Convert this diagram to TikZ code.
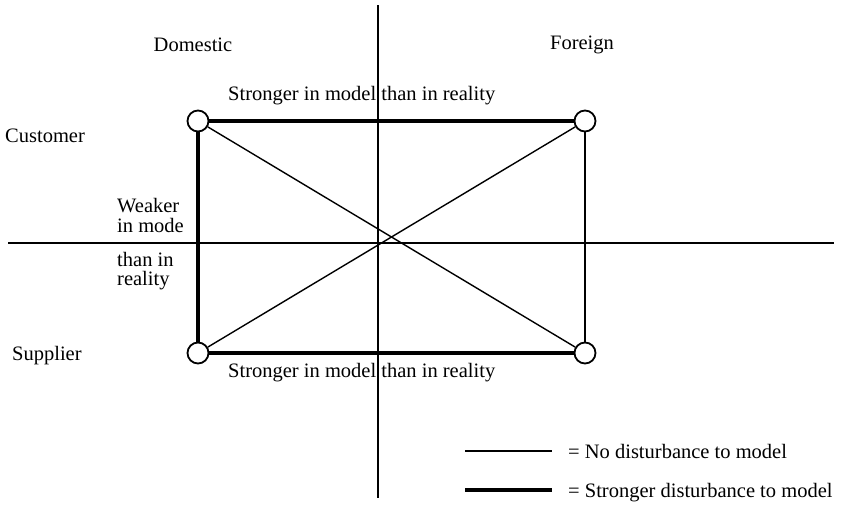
\documentclass[tikz,border=0pt]{standalone}
\usepackage{fontspec}
\setmainfont{Liberation Serif}
\begin{document}
\begin{tikzpicture}[x=1pt,y=-1pt,
  vtx/.style={circle,draw,line width=1.8pt,minimum size=21pt,inner sep=0pt,fill=white},
  axisline/.style={line width=1.6pt},
  lightedge/.style={line width=1.4pt},
  heavyedge/.style={line width=4.2pt},
  lbl/.style={inner sep=0pt,font=\fontsize{20.5}{24}\selectfont}
]
\useasboundingbox (0,0) rectangle (852,506);
% axes
\coordinate (vt) at (378,5);
\coordinate (vb) at (378,498);
\coordinate (hl) at (8,243);
\coordinate (hr) at (834,243);
\draw[axisline] (vt) -- (vb);
\draw[axisline] (hl) -- (hr);
% vertices
\node[vtx] (tl) at (198,121) {};
\node[vtx] (tr) at (585,121) {};
\node[vtx] (bl) at (198,353) {};
\node[vtx] (br) at (585,353) {};
% edges
\draw[lightedge] (tl) -- (br);
\draw[lightedge] (bl) -- (tr);
\draw[lightedge] (tr) -- (br);
\draw[heavyedge] (tl) -- (tr);
\draw[heavyedge] (bl) -- (br);
\draw[heavyedge] (tl) -- (bl);
% labels
\node[lbl,anchor=base] (dom) at (193,51) {Domestic};
\node[lbl,anchor=base] (for) at (582,49) {Foreign};
\node[lbl,anchor=base west] (cus) at (5,142) {Customer};
\node[lbl,anchor=base west] (sup) at (12,360) {Supplier};
\node[lbl,anchor=base west] (st1) at (228,100) {Stronger in model than in reality};
\node[lbl,anchor=base west] (st2) at (228,377) {Stronger in model than in reality};
\node[lbl,anchor=base west] (w1) at (117,212) {Weaker};
\node[lbl,anchor=base west] (w2) at (117,232) {in mode};
\node[lbl,anchor=base west] (w3) at (117,266) {than in};
\node[lbl,anchor=base west] (w4) at (117,285) {reality};
% legend
\coordinate (l1a) at (465,451);
\coordinate (l1b) at (552,451);
\coordinate (l2a) at (465,490);
\coordinate (l2b) at (552,490);
\draw[lightedge] (l1a) -- (l1b);
\draw[heavyedge] (l2a) -- (l2b);
\node[lbl,anchor=base west] (lg1) at (568,458) {= No disturbance to model};
\node[lbl,anchor=base west] (lg2) at (568,497) {= Stronger disturbance to model};
\end{tikzpicture}
\end{document}
